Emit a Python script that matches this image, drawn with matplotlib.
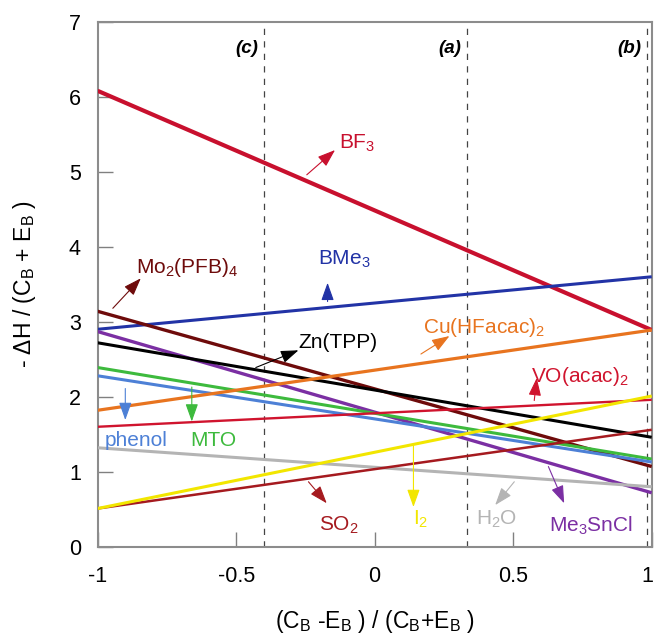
import matplotlib
matplotlib.use('Agg')
import matplotlib.pyplot as plt
from matplotlib.transforms import ScaledTranslation

plt.rcParams.update({"font.family": "Liberation Sans", "font.size": 15.5,
    "mathtext.fontset": "custom", "mathtext.rm": "Liberation Sans",
    "mathtext.it": "Liberation Sans:italic", "mathtext.bf": "Liberation Sans:bold",
    "mathtext.default": "regular"})

# ---- data: line values at x=-1 and x=+1 ----
names = ["BF3", "BMe3", "Mo2(PFB)4", "Me3SnCl", "Zn(TPP)", "MTO", "phenol",
         "Cu(HFacac)2", "VO(acac)2", "H2O", "SO2", "I2"]
y_left = [6.08, 2.90, 3.14, 2.87, 2.72, 2.39, 2.28, 1.82, 1.60, 1.32, 0.51, 0.51]
y_right = [2.89, 3.60, 1.07, 0.72, 1.46, 1.17, 1.13, 2.89, 1.96, 0.80, 1.56, 2.01]
labels = [r"BF$_3$", r"BMe$_3$", r"Mo$_2$(PFB)$_4$", r"Me$_3$SnCl", "Zn(TPP)", "MTO", "phenol",
          r"Cu(HFacac)$_2$", r"VO(acac)$_2$", r"H$_2$O", r"SO$_2$", r"I$_2$"]
colors = ["#c8102e", "#2233a6", "#6e0b0b", "#7b2fa3", "#000000", "#3dba3d", "#4d80d6",
          "#e8741f", "#d0142e", "#b4b4b4", "#a51a1f", "#f2e600"]
widths = [3.0, 2.2, 2.4, 2.4, 2.2, 2.2, 2.2, 2.3, 1.7, 2.2, 1.8, 2.2]
# label anchor (x, y baseline), arrow tail, arrow head
label_xy = [(-0.13, 5.31), (-0.205, 3.765), (-0.86, 3.645), (0.631, 0.20), (-0.275, 2.645),
            (-0.666, 1.34), (-0.975, 1.34), (0.176, 2.845), (0.564, 2.20), (0.366, 0.29),
            (-0.20, 0.21), (0.14, 0.29)]
arrow_tail = [(-0.245, 4.96), (-0.17, 3.27), (-0.945, 3.18), (0.627, 1.07), (-0.429, 2.39),
              (-0.66, 2.13), (-0.90, 2.11), (0.167, 2.57), (0.576, 1.95), (0.504, 0.867),
              (-0.239, 0.867), (0.14, 1.37)]
arrow_head = [(-0.143, 5.29), (-0.17, 3.52), (-0.844, 3.58), (0.684, 0.58), (-0.275, 2.62),
              (-0.66, 1.67), (-0.90, 1.69), (0.27, 2.81), (0.585, 2.25), (0.435, 0.556),
              (-0.173, 0.58), (0.14, 0.53)]
regions = [(-0.40, "(c)"), (1/3, "(a)"), (0.983, "(b)")]

fig = plt.figure(figsize=(6.55, 6.41), dpi=100)
ax = fig.add_axes([0.149, 0.147, 0.846, 0.819])

for yl, yr, c, w in zip(y_left, y_right, colors, widths):
    ax.plot([-1, 1], [yl, yr], color=c, lw=w, solid_capstyle="butt", zorder=3)

for xv, t in regions:
    ax.axvline(xv, color="#444444", lw=0.9, ls=(0, (5, 5)), zorder=1)
    ax.text(xv - 0.022, 6.65, t, ha="right", va="center", fontsize=13.5,
            fontweight="bold", fontstyle="italic")

for lab, c, (tx, ty), tail, head in zip(labels, colors, label_xy, arrow_tail, arrow_head):
    ax.text(tx, ty, lab, color=c, ha="left", va="baseline", fontsize=15, zorder=5)
    ax.annotate("", xy=head, xytext=tail, zorder=5,
                arrowprops=dict(arrowstyle="-|>,head_length=0.7,head_width=0.25",
                                color=c, lw=0.8, shrinkA=0, shrinkB=0))

ax.set_xlim(-1, 1)
ax.set_ylim(0, 7)
ax.set_xticks([-1, -0.5, 0, 0.5, 1])
ax.set_xticklabels(["-1", "-0.5", "0", "0.5", "1"])
ax.set_yticks(range(8))
ax.tick_params(direction="in", length=11, width=1, color="#808080", labelsize=15.5)
ax.tick_params(axis="x", pad=14)
ax.tick_params(axis="y", pad=12)
# nudge the last x tick label so it stays inside the canvas
last = ax.get_xticklabels()[-1]
last.set_transform(last.get_transform() + ScaledTranslation(-4/100, 0, fig.dpi_scale_trans))
for s in ax.spines.values():
    s.set_color("#8c8c8c")
    s.set_linewidth(1.5)

ax.set_xlabel(r"(C$_B$ -E$_B$ ) / (C$_B$+E$_B$ )", fontsize=16.5, labelpad=15)
ax.set_ylabel(r"- $\Delta$H / (C$_B$ + E$_B$ )", fontsize=16.5, labelpad=22)

fig.savefig("out.png", dpi=100)
